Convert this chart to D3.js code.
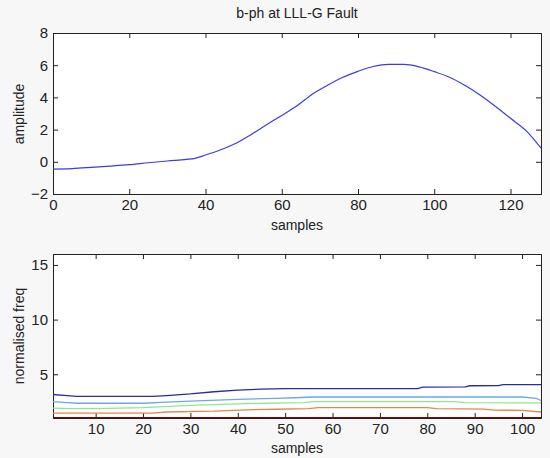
<!DOCTYPE html>
<html>
<head>
	<meta charset="utf-8">
	<title>b-ph at LLL-G Fault</title>
	<script src="https://d3js.org/d3.v7.min.js"></script>
	<style>
		body { margin: 0; background: #f7f7f7; }
		text { font-family: "Liberation Sans", Arial, sans-serif; fill: #222; }
	</style>
</head>
<body>
</body>
<script>
	// top plot: b-phase amplitude
	var ampSamples = [0, 5, 10, 15, 20, 25, 30, 35, 37, 40, 44, 48, 52, 56, 60, 64, 68, 72, 76, 80, 84, 88, 92, 96, 100, 104, 108, 112, 116, 120, 124, 128];
	var ampValues = [-0.45, -0.42, -0.35, -0.27, -0.18, -0.06, 0.05, 0.15, 0.2, 0.42, 0.75, 1.15, 1.7, 2.3, 2.88, 3.48, 4.2, 4.75, 5.25, 5.62, 5.92, 6.05, 6.05, 5.9, 5.6, 5.25, 4.75, 4.15, 3.45, 2.7, 1.95, 0.85];
	var ampXTicks = [0, 20, 40, 60, 80, 100, 120];
	var ampYTicks = [-2, 0, 2, 4, 6, 8];

	// bottom plot: normalised frequency, one array pair per line
	var f1x = [1, 4, 6, 22, 25, 30, 35, 40, 45, 50, 78, 79, 88, 89, 95, 96, 104];
	var f1y = [3.15, 3.05, 2.98, 2.98, 3.05, 3.2, 3.4, 3.55, 3.65, 3.68, 3.68, 3.82, 3.85, 3.95, 3.97, 4.05, 4.05];
	var f2x = [1, 4, 6, 20, 25, 30, 40, 48, 52, 56, 100, 103, 104];
	var f2y = [2.5, 2.4, 2.35, 2.35, 2.45, 2.55, 2.7, 2.8, 2.85, 2.92, 2.92, 2.8, 2.6];
	var f3x = [1, 5, 10, 20, 30, 40, 50, 54, 56, 86, 88, 104];
	var f3y = [1.9, 1.85, 1.85, 1.95, 2.15, 2.3, 2.38, 2.4, 2.5, 2.5, 2.4, 2.38];
	var f4x = [1, 22, 25, 35, 42, 48, 55, 57, 80, 82, 92, 94, 100, 104];
	var f4y = [1.45, 1.45, 1.55, 1.62, 1.75, 1.8, 1.85, 1.95, 1.95, 1.85, 1.82, 1.72, 1.7, 1.55];
	var f5x = [1, 104];
	var f5y = [1.03, 1.03];
	var freqColors = ["#2b2ba3", "#6ea6ee", "#8fe88f", "#e8854d", "#6b0d0d"];
	var freqXTicks = [10, 20, 30, 40, 50, 60, 70, 80, 90, 100];
	var freqYTicks = [5, 10, 15];

	var svg = d3.select("body").append("svg").attr("width", 550).attr("height", 458);

	function drawAxes(g, x, y, xTicks, yTicks, w, h) {
		g.append("rect").attr("width", w).attr("height", h).attr("fill", "white");
		var xb = g.append("g").attr("transform", "translate(0," + h + ")")
			.call(d3.axisBottom(x).tickValues(xTicks).tickSize(-5).tickPadding(5).tickFormat(d3.format("d")));
		var xt = g.append("g").call(d3.axisTop(x).tickValues(xTicks).tickSize(-5).tickFormat(""));
		var yl = g.append("g").call(d3.axisLeft(y).tickValues(yTicks).tickSize(-5).tickPadding(5).tickFormat(d3.format("d")));
		var yr = g.append("g").attr("transform", "translate(" + w + ",0)")
			.call(d3.axisRight(y).tickValues(yTicks).tickSize(-5).tickFormat(""));
		[xb, xt, yl, yr].forEach(function(a) {
			a.selectAll("path").attr("stroke", "#222");
			a.selectAll("line").attr("stroke", "#222");
			a.selectAll("text").attr("font-size", 15).attr("fill", "#222").style("font-family", "'Liberation Sans', Arial, sans-serif");
		});
	}

	// ---- top axes ----
	var w = 488, h1 = 161;
	var g1 = svg.append("g").attr("transform", "translate(53,33)");
	var x1 = d3.scaleLinear().domain([0, 128]).range([0, w]);
	var y1 = d3.scaleLinear().domain([-2, 8]).range([h1, 0]);
	drawAxes(g1, x1, y1, ampXTicks, ampYTicks, w, h1);

	var ampData = ampSamples.map(function(s, i) { return [s, ampValues[i]]; });
	g1.append("path").datum(ampData)
		.attr("fill", "none").attr("stroke", "#3a3aee").attr("stroke-width", 1.2)
		.attr("d", d3.line().x(function(d) { return x1(d[0]); }).y(function(d) { return y1(d[1]); }).curve(d3.curveMonotoneX));

	svg.append("text").attr("x", 297).attr("y", 18).attr("text-anchor", "middle").attr("font-size", 14).text("b-ph at LLL-G Fault");
	svg.append("text").attr("x", 297).attr("y", 230).attr("text-anchor", "middle").attr("font-size", 14).text("samples");
	svg.append("text").attr("transform", "translate(24,114) rotate(-90)").attr("text-anchor", "middle").attr("font-size", 14).text("amplitude");

	// ---- bottom axes ----
	var h2 = 164;
	var g2 = svg.append("g").attr("transform", "translate(53,254)");
	var x2 = d3.scaleLinear().domain([1, 104]).range([0, w]);
	var y2 = d3.scaleLinear().domain([1, 16]).range([h2, 0]);
	drawAxes(g2, x2, y2, freqXTicks, freqYTicks, w, h2);

	var series = [[f1x, f1y], [f2x, f2y], [f3x, f3y], [f4x, f4y], [f5x, f5y]];
	var line2 = d3.line().x(function(d) { return x2(d[0]); }).y(function(d) { return y2(d[1]); });
	series.forEach(function(s, k) {
		var pts = s[0].map(function(v, i) { return [v, s[1][i]]; });
		g2.append("path").datum(pts)
			.attr("fill", "none").attr("stroke", freqColors[k]).attr("stroke-width", 1.3)
			.attr("d", line2);
	});

	svg.append("text").attr("x", 297).attr("y", 453).attr("text-anchor", "middle").attr("font-size", 14).text("samples");
	svg.append("text").attr("transform", "translate(24,336) rotate(-90)").attr("text-anchor", "middle").attr("font-size", 14).text("normalised freq");
</script>
</html>
